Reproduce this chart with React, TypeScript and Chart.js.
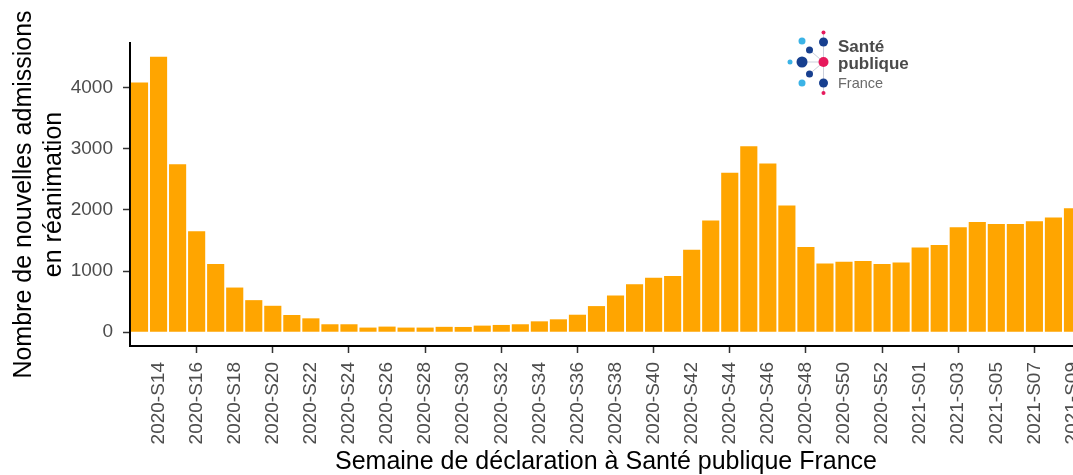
import React, { useEffect, useRef } from "react";
import { Chart, registerables } from "chart.js";

Chart.register(...registerables);

const weeks: string[] = [
  "2020-S13", "2020-S14", "2020-S15", "2020-S16", "2020-S17", "2020-S18", "2020-S19", "2020-S20",
  "2020-S21", "2020-S22", "2020-S23", "2020-S24", "2020-S25", "2020-S26", "2020-S27", "2020-S28",
  "2020-S29", "2020-S30", "2020-S31", "2020-S32", "2020-S33", "2020-S34", "2020-S35", "2020-S36",
  "2020-S37", "2020-S38", "2020-S39", "2020-S40", "2020-S41", "2020-S42", "2020-S43", "2020-S44",
  "2020-S45", "2020-S46", "2020-S47", "2020-S48", "2020-S49", "2020-S50", "2020-S51", "2020-S52",
  "2020-S53", "2021-S01", "2021-S02", "2021-S03", "2021-S04", "2021-S05", "2021-S06", "2021-S07",
  "2021-S08", "2021-S09",
];

const admissions: number[] = [
  4080, 4500, 2745, 1650, 1113, 730, 524, 432,
  281, 227, 130, 130, 76, 92, 76, 76,
  88, 86, 108, 119, 130, 178, 211, 286,
  427, 600, 784, 892, 919, 1346, 1827, 2605,
  3038, 2757, 2070, 1394, 1124, 1151, 1162, 1113,
  1140, 1384, 1427, 1713, 1800, 1767, 1767, 1811,
  1876, 2027,
];

const yTickValues: number[] = [0, 1000, 2000, 3000, 4000];
const yTitle: string[] = ["Nombre de nouvelles admissions", "en réanimation"];
const xTitle = "Semaine de déclaration à Santé publique France";
const logoWords: string[] = ["Santé", "publique", "France"];

const FONT = "'Liberation Sans', Arial, Helvetica, sans-serif";

const logoPlugin = {
  id: "spfLogo",
  afterDraw(chart: any) {
    const ctx = chart.ctx as CanvasRenderingContext2D;
    ctx.save();
    const navy = "#173f8f";
    const light = "#3bb3e6";
    const pink = "#e6195c";
    ctx.strokeStyle = "rgba(190,195,210,0.8)";
    ctx.lineWidth = 1;
    ctx.beginPath();
    ctx.moveTo(823.5, 33); ctx.lineTo(823.5, 93);
    ctx.moveTo(802, 62); ctx.lineTo(823.5, 62);
    ctx.moveTo(809.5, 50); ctx.lineTo(823.5, 62);
    ctx.moveTo(809.5, 74); ctx.lineTo(823.5, 62);
    ctx.stroke();
    const dots: [number, number, number, string][] = [
      [823.5, 32.5, 2, pink],
      [823.5, 42, 4.5, navy],
      [802, 41, 3.5, light],
      [809.5, 50, 3.5, navy],
      [790, 62, 2.5, light],
      [802, 62, 5.5, navy],
      [823.5, 62, 5, pink],
      [809.5, 74, 3.5, navy],
      [802, 83, 3.5, light],
      [823.5, 83, 4.5, navy],
      [823.5, 93, 2, pink],
    ];
    for (const [x, y, r, c] of dots) {
      ctx.fillStyle = c;
      ctx.beginPath();
      ctx.arc(x, y, r, 0, Math.PI * 2);
      ctx.fill();
    }
    ctx.textAlign = "left";
    ctx.textBaseline = "alphabetic";
    ctx.fillStyle = "#4a4a4a";
    ctx.font = `bold 17px ${FONT}`;
    ctx.fillText(logoWords[0], 838, 52);
    ctx.fillText(logoWords[1], 838, 68.5);
    ctx.fillStyle = "#6a6a6a";
    ctx.font = `14.5px ${FONT}`;
    ctx.fillText(logoWords[2], 838, 88);
    ctx.restore();
  },
};

export default function App() {
  const canvasRef = useRef<HTMLCanvasElement | null>(null);

  useEffect(() => {
    if (!canvasRef.current) return;
    const chart = new Chart(canvasRef.current, {
      type: "bar",
      data: {
        labels: weeks,
        datasets: [
          {
            data: admissions,
            backgroundColor: "#FFA500",
            borderWidth: 0,
            barPercentage: 0.9,
            categoryPercentage: 1.0,
          },
        ],
      },
      options: {
        animation: false,
        responsive: true,
        maintainAspectRatio: false,
        layout: { padding: { top: 43, right: 18, left: 0, bottom: 0 } },
        plugins: { legend: { display: false }, tooltip: { enabled: false } },
        scales: {
          x: {
            type: "category",
            offset: true,
            grid: {
              display: true,
              offset: false,
              drawOnChartArea: false,
              drawTicks: true,
              tickLength: 7,
              tickWidth: 1.5,
              tickColor: (c: any) => (c.index % 2 === 1 ? "#333333" : "rgba(0,0,0,0)"),
            },
            border: { display: true, color: "#000000", width: 2 },
            ticks: {
              autoSkip: false,
              maxRotation: 90,
              minRotation: 90,
              padding: 9,
              color: "#4d4d4d",
              font: { family: FONT, size: 19 },
              callback: (_v: any, i: number) => (i % 2 === 1 ? weeks[i] : null),
            },
            title: {
              display: true,
              text: xTitle,
              color: "#000000",
              font: { family: FONT, size: 25, lineHeight: 1 },
              padding: 0,
            },
            afterFit: (s: any) => {
              s.height = 129;
              s.paddingLeft = 0;
              s.paddingRight = 0;
            },
          },
          y: {
            min: -225,
            max: 4725,
            afterBuildTicks: (s: any) => {
              s.ticks = yTickValues.map((v) => ({ value: v }));
            },
            grid: {
              drawOnChartArea: false,
              drawTicks: true,
              tickLength: 7,
              tickWidth: 1.5,
              tickColor: "#333333",
            },
            border: { display: true, color: "#000000", width: 2 },
            ticks: {
              color: "#4d4d4d",
              font: { family: FONT, size: 19 },
              padding: 10,
              callback: (v: any) => String(v),
            },
            title: {
              display: true,
              text: yTitle,
              color: "#000000",
              font: { family: FONT, size: 25, lineHeight: 1.2 },
              padding: { top: 9, bottom: 0 },
            },
            afterFit: (s: any) => {
              s.width = 130;
            },
          },
        },
      },
      plugins: [logoPlugin],
    } as any);
    return () => chart.destroy();
  }, []);

  return (
    <div
      style={{
        position: "fixed",
        left: 0,
        top: 0,
        width: 1073,
        height: 475,
        overflow: "hidden",
        background: "#ffffff",
      }}
    >
      <div style={{ position: "absolute", left: 0, top: 0, width: 1100, height: 475 }}>
        <canvas ref={canvasRef} />
      </div>
    </div>
  );
}
